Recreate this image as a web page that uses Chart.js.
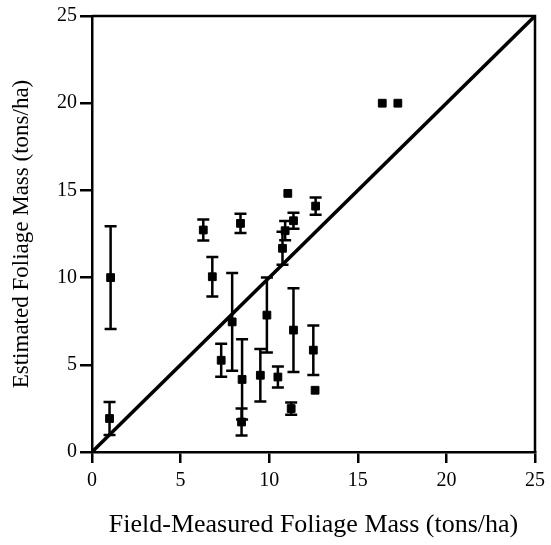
<!DOCTYPE html>
<html>
<head>
<meta charset="utf-8">
<script src="https://cdn.jsdelivr.net/npm/chart.js@4.4.0/dist/chart.umd.min.js"></script>
<style>
  html, body { margin: 0; padding: 0; background: #fff; }
</style>
</head>
<body>
<canvas id="chart" width="551" height="545"></canvas>
<script>
// field-measured (x) vs estimated (y) foliage mass, tons/ha
const fieldMass = [1.05, 0.99, 6.28, 8.38, 6.79, 7.91, 9.87, 7.29, 8.47, 8.44, 9.5, 10.49,
  11.05, 12.62, 11.37, 10.9, 10.75, 11.37, 12.49, 12.59, 11.24, 16.38, 17.26];
const estimatedMass = [10.0, 1.92, 12.73, 13.11, 10.05, 7.46, 7.85, 5.26, 4.16, 1.72, 4.4, 4.3,
  14.83, 14.1, 13.26, 12.69, 11.68, 6.99, 5.84, 3.54, 2.49, 20.0, 20.0];
// half-length of the error bar, 0 = no bar
const estimatedErr = [2.95, 0.95, 0.6, 0.55, 1.13, 2.8, 2.15, 0.95, 2.3, 0.78, 1.5, 0.6,
  0, 0.5, 0.46, 0.55, 0.95, 2.4, 1.42, 0, 0.35, 0, 0];
const oneToOneX = [0, 25];
const oneToOneY = [0, 25];

const serif = '"Liberation Serif", "Times New Roman", serif';

const errorBars = {
  id: 'errorBars',
  afterDatasetsDraw(chart) {
    const { ctx, scales: { x, y } } = chart;
    ctx.save();
    ctx.strokeStyle = '#000';
    ctx.lineWidth = 2.5;
    fieldMass.forEach((fx, i) => {
      const err = estimatedErr[i];
      if (!err) return;
      const px = x.getPixelForValue(fx);
      const top = y.getPixelForValue(estimatedMass[i] + err);
      const bot = y.getPixelForValue(estimatedMass[i] - err);
      ctx.beginPath();
      ctx.moveTo(px, top);
      ctx.lineTo(px, bot);
      ctx.moveTo(px - 6, top);
      ctx.lineTo(px + 6, top);
      ctx.moveTo(px - 6, bot);
      ctx.lineTo(px + 6, bot);
      ctx.stroke();
    });
    ctx.restore();
  },
};

// top and right sides of the box
const frame = {
  id: 'frame',
  afterDraw(chart) {
    const { ctx, chartArea: a } = chart;
    ctx.save();
    ctx.strokeStyle = '#000';
    ctx.lineWidth = 2.5;
    ctx.beginPath();
    ctx.moveTo(a.left, a.top);
    ctx.lineTo(a.right, a.top);
    ctx.lineTo(a.right, a.bottom);
    ctx.stroke();
    ctx.restore();
  },
};

const axisStyle = (title, titleSize, titlePad, tickLength, tickPad) => ({
  type: 'linear',
  min: 0,
  max: 25,
  ticks: { stepSize: 5, color: '#000', padding: tickPad, font: { family: serif, size: 20 } },
  grid: { drawOnChartArea: false, drawTicks: true, tickLength, color: '#000', lineWidth: 2.5 },
  border: { display: true, color: '#000', width: 2.5 },
  title: { display: true, text: title, color: '#000', padding: titlePad, font: { family: serif, size: titleSize } },
});

const xAxis = axisStyle('Field-Measured Foliage Mass (tons/ha)', 26, { top: 0, bottom: 4 }, 11, 6);
xAxis.afterFit = (s) => { s.height = 93; };
const yAxis = axisStyle('Estimated Foliage Mass (tons/ha)', 23, { top: 8, bottom: 0 }, 12, 3);
yAxis.afterFit = (s) => { s.width = 92; };

new Chart(document.getElementById('chart'), {
  data: {
    datasets: [
      {
        type: 'scatter',
        data: fieldMass.map((x, i) => ({ x, y: estimatedMass[i] })),
        pointStyle: 'rect',
        pointRadius: 5.5,
        backgroundColor: '#000',
        borderColor: '#000',
        borderWidth: 1,
      },
      {
        type: 'line',
        data: oneToOneX.map((x, i) => ({ x, y: oneToOneY[i] })),
        borderColor: '#000',
        borderWidth: 3.5,
        pointRadius: 0,
        fill: false,
      },
    ],
  },
  options: {
    responsive: false,
    animation: false,
    layout: { padding: { top: 16, right: 13, left: 0, bottom: 0 } },
    plugins: { legend: { display: false }, tooltip: { enabled: false } },
    scales: { x: xAxis, y: yAxis },
  },
  plugins: [errorBars, frame],
});
</script>
</body>
</html>
